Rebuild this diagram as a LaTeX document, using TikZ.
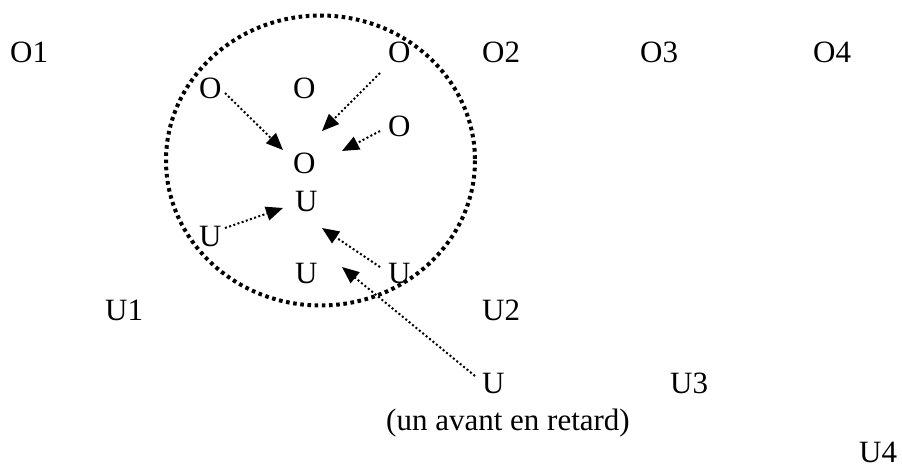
\documentclass[tikz,border=0pt]{standalone}
\usepackage{fontspec}
\setmainfont{Liberation Serif}
\usetikzlibrary{arrows.meta}
\tikzset{
  lbl/.style={anchor=base west, inner sep=0pt, font=\fontsize{31}{37}\selectfont},
  darrow/.style={line width=2pt, dash pattern=on 2pt off 2.4pt, -{Triangle[length=17pt,width=14pt]}},
  ring/.style={line width=4pt, dash pattern=on 3.6pt off 3.6pt}
}
\begin{document}
\begin{tikzpicture}[x=1pt,y=-1pt]
\useasboundingbox (0,0) rectangle (902,468);
% labels
\node[lbl] (O1) at (10,63) {O1};
\node[lbl] (Otr) at (388,63) {O};
\node[lbl] (O2) at (482,63) {O2};
\node[lbl] (O3) at (640,63) {O3};
\node[lbl] (O4) at (813,63) {O4};
\node[lbl] (Ol) at (199,99) {O};
\node[lbl] (Om) at (293,99) {O};
\node[lbl] (Or) at (388,137) {O};
\node[lbl] (Oc) at (293,173) {O};
\node[lbl] (Uc) at (295,211) {U};
\node[lbl] (Ul) at (199,246) {U};
\node[lbl] (Ubm) at (295,283) {U};
\node[lbl] (Ur) at (388,283) {U};
\node[lbl] (U1) at (105,320) {U1};
\node[lbl] (U2) at (482,320) {U2};
\node[lbl] (Ub) at (482,393) {U};
\node[lbl] (U3) at (670,393) {U3};
\node[lbl] (note) at (386,430) {(un avant en retard)};
\node[lbl] (U4) at (859,462) {U4};
% ring
\draw[ring] (320.5,160.5) ellipse [x radius=154.5, y radius=145];
% arrow endpoints
\coordinate (s1) at (225,93);  \coordinate (t1) at (283,150);
\coordinate (s2) at (380,73);  \coordinate (t2) at (322,131);
\coordinate (s3) at (380,131); \coordinate (t3) at (342,151);
\coordinate (s4) at (225,228); \coordinate (t4) at (283,208);
\coordinate (s5) at (380,267); \coordinate (t5) at (322,228);
\coordinate (s6) at (475,376); \coordinate (t6) at (342,267);
\draw[darrow] (s1) -- (t1);
\draw[darrow] (s2) -- (t2);
\draw[darrow] (s3) -- (t3);
\draw[darrow] (s4) -- (t4);
\draw[darrow] (s5) -- (t5);
\draw[darrow] (s6) -- (t6);
\end{tikzpicture}
\end{document}
